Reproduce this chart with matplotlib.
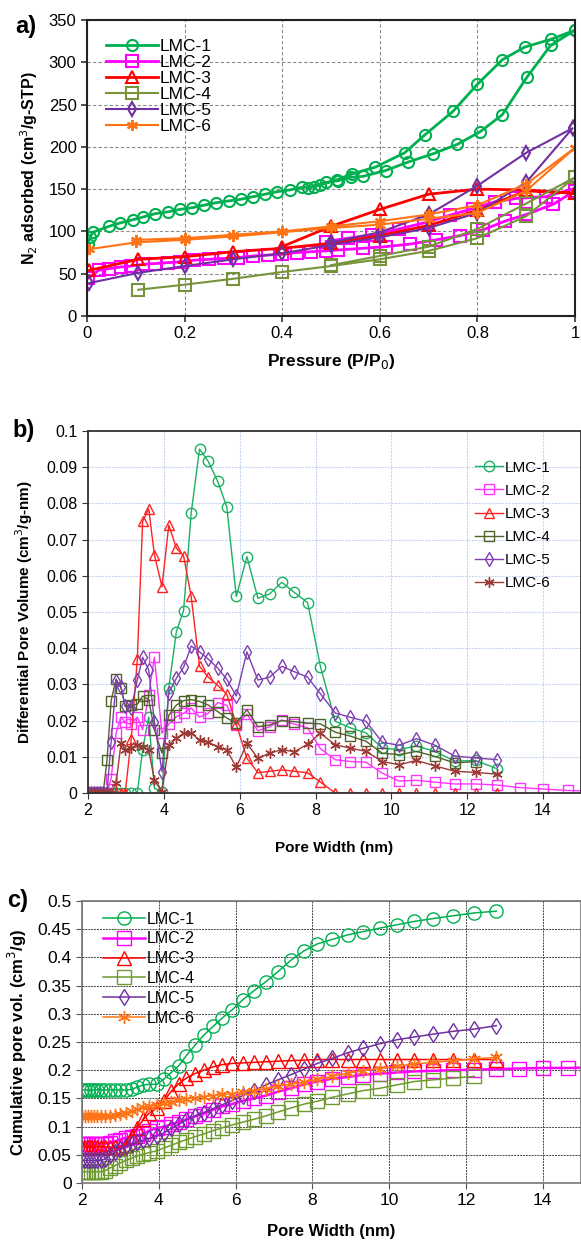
import numpy as np
import matplotlib
matplotlib.use("Agg")
import matplotlib.pyplot as plt
from matplotlib.ticker import FuncFormatter, MultipleLocator

plt.rcParams['font.family'] = ['Liberation Sans', 'DejaVu Sans']

labels = ['LMC-1', 'LMC-2', 'LMC-3', 'LMC-4', 'LMC-5', 'LMC-6']

# ---- a) N2 isotherms: adsorption branch then desorption branch ----
p_ads = [
    [0.002, 0.006, 0.012, 0.045, 0.068, 0.095, 0.115, 0.14, 0.165, 0.19, 0.215, 0.24, 0.265, 0.29,
     0.315, 0.34, 0.365, 0.39, 0.415, 0.44, 0.465, 0.49, 0.515, 0.54, 0.565, 0.612, 0.658, 0.71,
     0.759, 0.806, 0.851, 0.901, 0.95, 1.0],
    [0.003, 0.024, 0.045, 0.07, 0.09, 0.115, 0.14, 0.165, 0.19, 0.22, 0.25, 0.28, 0.31, 0.34, 0.37,
     0.4, 0.43, 0.46, 0.49, 0.515, 0.565, 0.612, 0.662, 0.715, 0.765, 0.812, 0.856, 0.9, 0.955, 1.0],
    [0.005, 0.105, 0.2, 0.3, 0.4, 0.5, 0.6, 0.7, 0.8, 0.9, 1.0],
    [0.105, 0.2, 0.3, 0.4, 0.5, 0.6, 0.7, 0.8, 0.9, 1.0],
    [0.005, 0.105, 0.2, 0.3, 0.4, 0.5, 0.6, 0.7, 0.8, 0.9, 0.995],
    [0.005, 0.1, 0.2, 0.3, 0.4, 0.5, 0.6, 0.7, 0.8, 0.9, 1.0],
]
v_ads = [
    [85, 93, 99, 106, 110, 114, 117, 121, 123, 126, 128, 131, 134, 136, 138, 141, 144, 147, 149,
     152, 153, 158, 160, 164, 165, 172, 182, 192, 203, 218, 238, 282, 320, 338],
    [45, 54, 56, 58, 59, 61, 62, 63, 64, 66, 67, 68, 69, 71, 72, 73, 75, 76, 77, 78, 80, 82, 85,
     90, 95, 102, 112, 120, 132, 148],
    [54, 67, 70, 76, 80, 86, 95, 107, 125, 148, 145],
    [31, 37, 44, 52, 59, 67, 77, 92, 118, 164],
    [39, 51, 59, 67, 74, 84, 93, 104, 122, 158, 222],
    [79, 87, 90, 94, 99, 104, 108, 115, 122, 148, 199],
]
p_des = [
    [1.0, 0.95, 0.897, 0.851, 0.80, 0.75, 0.692, 0.651, 0.591, 0.543, 0.512, 0.478, 0.452],
    [1.0, 0.94, 0.88, 0.836, 0.79, 0.743, 0.69, 0.64, 0.585, 0.535, 0.49],
    [1.0, 0.9, 0.8, 0.7, 0.6, 0.5, 0.4],
    [1.0, 0.9, 0.8, 0.7, 0.6, 0.5],
    [0.995, 0.9, 0.8, 0.7, 0.6, 0.5],
    [1.0, 0.9, 0.8, 0.7, 0.6, 0.5, 0.4, 0.3, 0.2, 0.1],
]
v_des = [
    [338, 327, 318, 303, 274, 242, 214, 193, 176, 168, 161, 155, 151],
    [151, 141, 139, 135, 127, 119, 110, 103, 96, 92, 88],
    [145, 149, 150, 144, 126, 106, 82],
    [164, 133, 103, 82, 71, 60],
    [222, 193, 154, 120, 99, 87],
    [199, 156, 131, 120, 112, 106, 100, 96, 92, 90],
]

# ---- b) / c) pore size distributions (shared pore width grid, nm) ----
width = [2.0, 2.08, 2.16, 2.24, 2.32, 2.4, 2.5, 2.61, 2.74, 2.87, 2.98, 3.14, 3.3, 3.44, 3.6, 3.75,
         3.95, 4.13, 4.33, 4.52, 4.72, 4.94, 5.17, 5.42, 5.66, 5.91, 6.19, 6.48, 6.79, 7.11, 7.44,
         7.79, 8.13, 8.52, 8.92, 9.33, 9.76, 10.2, 10.66, 11.15, 11.67, 12.22, 12.79, 13.38, 14.0,
         14.66, 15.3]

dpv1 = [0] * 13 + [0.012, 0.021, 0.0013, 0.0003, 0.029, 0.0446, 0.0504, 0.0773, 0.095, 0.0916,
                   0.0861, 0.079, 0.0543, 0.0653, 0.0538, 0.055, 0.0582, 0.0554, 0.0526, 0.0349,
                   0.0198, 0.018, 0.0166, 0.0124, 0.012, 0.013, 0.0115, 0.0088, 0.009, 0.0067]
dpv2 = [0] * 7 + [0.004, 0.0165, 0.021, 0.0195, 0.019, 0.021, 0.0175, 0.027, 0.0375, 0.0165, 0.019,
                  0.0211, 0.022, 0.0235, 0.021, 0.022, 0.025, 0.0242, 0.0188, 0.0218, 0.0172,
                  0.0183, 0.0202, 0.019, 0.018, 0.0122, 0.0092, 0.0087, 0.0085, 0.0055, 0.0033,
                  0.0035, 0.003, 0.0025, 0.0025, 0.0022, 0.0015, 0.0011, 0.0007, 0.0005]
dpv3 = [0] * 11 + [0.015, 0.037, 0.075, 0.0785, 0.0658, 0.057, 0.074, 0.0676, 0.0655, 0.0543,
                   0.035, 0.032, 0.0297, 0.0273, 0.019, 0.0096, 0.0056, 0.006, 0.0064, 0.006,
                   0.0056, 0.003] + [0] * 10
dpv4 = [0] * 6 + [0.009, 0.0255, 0.0315, 0.029, 0.024, 0.0243, 0.0245, 0.0268, 0.0258, 0.0175,
                  0.011, 0.0215, 0.0243, 0.0255, 0.0258, 0.0253, 0.0243, 0.0225, 0.0207, 0.0193,
                  0.023, 0.0183, 0.0188, 0.02, 0.0197, 0.0193, 0.0191, 0.0168, 0.0157, 0.0143,
                  0.011, 0.0106, 0.0115, 0.0101, 0.0083, 0.0087]
dpv5 = [0] * 7 + [0.0142, 0.031, 0.0294, 0.0239, 0.0235, 0.0312, 0.0375, 0.034, 0.0197, 0.0059,
                  0.0277, 0.0317, 0.0347, 0.0406, 0.039, 0.037, 0.0345, 0.0314, 0.0268, 0.039,
                  0.0312, 0.032, 0.035, 0.0335, 0.032, 0.0274, 0.0221, 0.0209, 0.0198, 0.014,
                  0.0132, 0.015, 0.0132, 0.0102, 0.0097, 0.0092]
dpv6 = [0] * 8 + [0.0027, 0.0137, 0.012, 0.0124, 0.0133, 0.0128, 0.0119, 0.0036, 0.0004, 0.0133,
                  0.0151, 0.0165, 0.0165, 0.0147, 0.014, 0.0128, 0.0119, 0.0071, 0.0137, 0.0096,
                  0.011, 0.012, 0.0114, 0.0135, 0.0165, 0.0133, 0.0124, 0.0115, 0.0087, 0.0078,
                  0.009, 0.0075, 0.006, 0.0057, 0.0052]

cpv1 = [0.165] * 12 + [0.166, 0.17, 0.174, 0.175, 0.175, 0.184, 0.196, 0.208, 0.226, 0.244, 0.262,
                       0.278, 0.293, 0.307, 0.325, 0.341, 0.357, 0.375, 0.395, 0.412, 0.424, 0.432,
                       0.44, 0.446, 0.452, 0.458, 0.464, 0.469, 0.474, 0.479, 0.482]
cpv2 = [0.07] * 8 + [0.071, 0.074, 0.077, 0.08, 0.082, 0.084, 0.087, 0.093, 0.097, 0.1, 0.104,
                     0.108, 0.113, 0.118, 0.123, 0.13, 0.136, 0.14, 0.146, 0.15, 0.155, 0.162,
                     0.168, 0.175, 0.18, 0.185, 0.188, 0.192, 0.194, 0.196, 0.198, 0.199, 0.2,
                     0.201, 0.202, 0.203, 0.204, 0.204, 0.205]
cpv3 = [0.064] * 11 + [0.068, 0.083, 0.097, 0.113, 0.124, 0.133, 0.145, 0.163, 0.176, 0.186, 0.194,
                       0.2, 0.206, 0.21, 0.212, 0.213, 0.214, 0.215, 0.216, 0.217, 0.218] + [0.219] * 11
cpv4 = [0.02] * 7 + [0.022, 0.027, 0.031, 0.035, 0.04, 0.044, 0.048, 0.051, 0.054, 0.057, 0.062,
                     0.067, 0.072, 0.077, 0.082, 0.087, 0.093, 0.098, 0.103, 0.108, 0.113, 0.119,
                     0.126, 0.133, 0.14, 0.145, 0.152, 0.158, 0.164, 0.168, 0.174, 0.18, 0.183,
                     0.186, 0.189]
cpv5 = [0.04] * 7 + [0.043, 0.05, 0.055, 0.06, 0.065, 0.069, 0.073, 0.076, 0.079, 0.083, 0.089,
                     0.097, 0.104, 0.112, 0.119, 0.125, 0.132, 0.139, 0.146, 0.155, 0.164, 0.174,
                     0.183, 0.192, 0.202, 0.212, 0.221, 0.231, 0.239, 0.247, 0.254, 0.259, 0.264,
                     0.269, 0.273, 0.279]
cpv6 = [0.118] * 9 + [0.12, 0.122, 0.125, 0.128, 0.131, 0.134, 0.136, 0.138, 0.141, 0.144, 0.147,
                      0.149, 0.151, 0.153, 0.155, 0.157, 0.158, 0.161, 0.164, 0.167, 0.172, 0.175,
                      0.179, 0.184, 0.189, 0.195, 0.199, 0.203, 0.207, 0.211, 0.214, 0.217, 0.22,
                      0.223]

dpv = [dpv1, dpv2, dpv3, dpv4, dpv5, dpv6]
cpv = [cpv1, cpv2, cpv3, cpv4, cpv5, cpv6]

star = (6, 2, 0)
markers = ['o', 's', '^', 's', 'd', star]
colors_a = ['#00B050', '#FF00FF', '#FF0000', '#77933C', '#7030A0', '#FF7417']
colors_b = ['#1BB062', '#FF33FF', '#FF2222', '#4F6228', '#7F3FB0', '#9B3A36']
colors_c = ['#00B050', '#FF00FF', '#FF0000', '#6E9A30', '#7030A0', '#FF7417']

fmt = FuncFormatter(lambda v, pos: '%g' % round(v, 3))

fig = plt.figure(figsize=(5.81, 12.42), dpi=100)

# ---------------- a) ----------------
ax = fig.add_axes([0.1497, 0.7456, 0.840, 0.2383])
for i in range(6):
    p = p_ads[i] + p_des[i]
    v = v_ads[i] + v_des[i]
    ax.plot(p, v, color=colors_a[i], marker=markers[i], mfc='none', mec=colors_a[i],
            ms=8 if i != 4 else 7, mew=1.5, lw=2 if i in (0, 1, 2) else 1.5, label=labels[i])
ax.set_xlim(0, 1)
ax.set_ylim(0, 350)
ax.xaxis.set_major_locator(MultipleLocator(0.2))
ax.yaxis.set_major_locator(MultipleLocator(50))
ax.xaxis.set_major_formatter(fmt)
ax.grid(True, color='#8a8a8a', ls=(0, (3, 2)), lw=0.8)
ax.tick_params(labelsize=12, length=4, width=1.2, color='#333333')
for s in ax.spines.values():
    s.set_linewidth(1.5)
    s.set_color('#222222')
ax.set_xlabel('Pressure (P/P$_0$)', fontsize=12.5, fontweight='bold', labelpad=8)
ax.set_ylabel('N$_2$ adsorbed (cm$^3$/g-STP)', fontsize=11.5, fontweight='bold', labelpad=6)
ax.legend(loc='upper left', bbox_to_anchor=(0.025, 0.96), frameon=False, fontsize=12.5,
          handlelength=3.0, handletextpad=0.1, labelspacing=0.05, borderaxespad=0)
fig.text(0.027, 0.979, 'a)', fontsize=17, fontweight='bold', va='center', ha='left')

# ---------------- b) ----------------
ax = fig.add_axes([0.1515, 0.3615, 0.8485, 0.2915])
for i in range(6):
    n = len(dpv[i])
    ax.plot(width[:n], dpv[i], color=colors_b[i], marker=markers[i], mfc='none',
            mec=colors_b[i], ms=7.5 if i != 4 else 7, mew=1, lw=1, label=labels[i])
ax.set_xlim(2, 15)
ax.set_ylim(0, 0.1)
ax.xaxis.set_major_locator(MultipleLocator(2))
ax.yaxis.set_major_locator(MultipleLocator(0.01))
ax.yaxis.set_major_formatter(fmt)
ax.grid(True, color='#c5d6ee', ls=(0, (2, 1)), lw=0.8)
ax.tick_params(labelsize=11.5, length=4, color='#333333')
for s in ax.spines.values():
    s.set_linewidth(1.3)
    s.set_color('#333333')
ax.set_xlabel('Pore Width (nm)', fontsize=11, fontweight='bold', labelpad=16)
ax.set_ylabel('Differential Pore Volume (cm$^3$/g-nm)', fontsize=11, fontweight='bold', labelpad=8)
ax.legend(loc='upper right', bbox_to_anchor=(0.95, 0.935), frameon=False, fontsize=11,
          handlelength=1.8, handletextpad=0.1, labelspacing=0.6, borderaxespad=0)
fig.text(0.022, 0.653, 'b)', fontsize=17, fontweight='bold', va='center', ha='left')

# ---------------- c) ----------------
ax = fig.add_axes([0.1411, 0.0475, 0.8589, 0.227])
for i in range(6):
    n = len(cpv[i])
    ax.plot(width[:n], cpv[i], color=colors_c[i], marker=markers[i], mfc='none',
            mec=colors_c[i], ms=9.5 if i != 4 else 8.5, mew=1, lw=1.8 if i == 1 else 1.1,
            label=labels[i])
ax.set_xlim(2, 15)
ax.set_ylim(0, 0.5)
ax.xaxis.set_major_locator(MultipleLocator(2))
ax.yaxis.set_major_locator(MultipleLocator(0.05))
ax.yaxis.set_major_formatter(fmt)
ax.grid(True, color='#444444', ls=(0, (2, 1)), lw=0.7)
ax.tick_params(labelsize=12.5, length=4, color='#555555')
for s in ax.spines.values():
    s.set_linewidth(1.2)
    s.set_color('#777777')
ax.set_xlabel('Pore Width (nm)', fontsize=12, fontweight='bold', labelpad=11)
ax.set_ylabel('Cumulative pore vol. (cm$^3$/g)', fontsize=12, fontweight='bold', labelpad=6)
ax.legend(loc='upper left', bbox_to_anchor=(0.03, 0.985), frameon=False, fontsize=11.5,
          handlelength=2.6, handletextpad=0.1, labelspacing=0.3, borderaxespad=0)
fig.text(0.012, 0.275, 'c)', fontsize=17, fontweight='bold', va='center', ha='left')

fig.savefig('out.png', dpi=100)
